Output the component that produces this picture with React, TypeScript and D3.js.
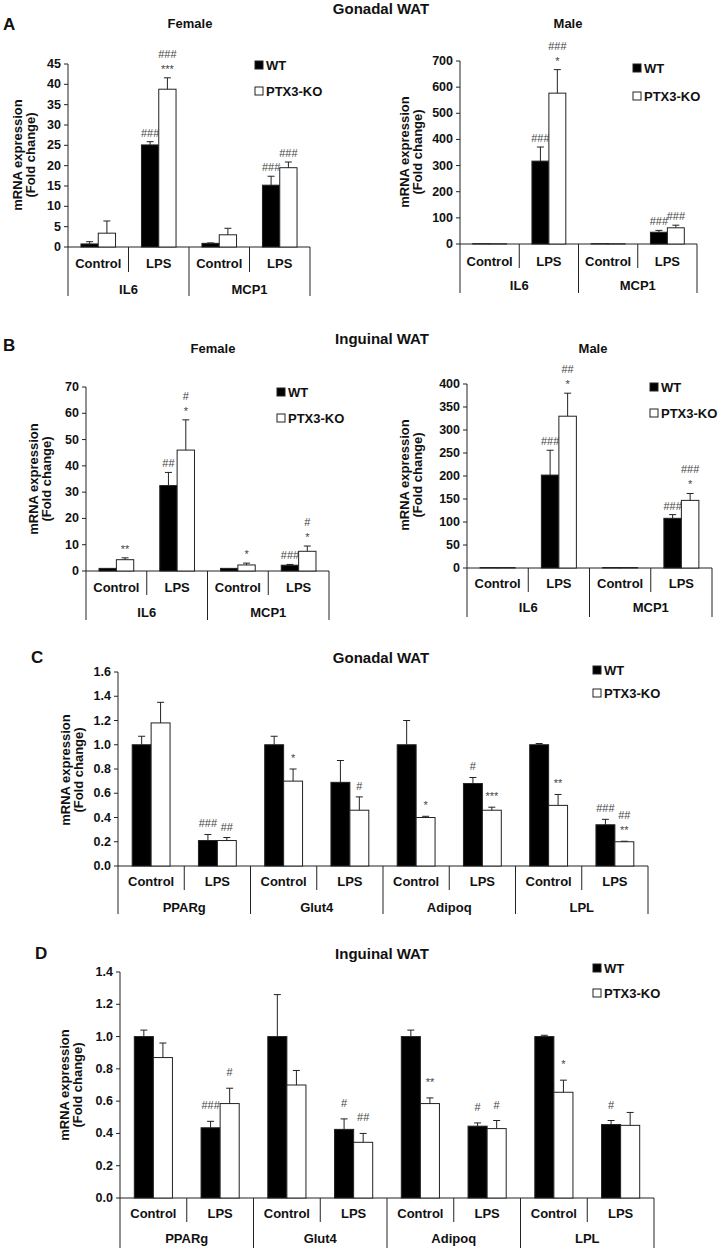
import React from "react";
import * as d3 from "d3";

const FONT = "'Liberation Sans', Arial, Helvetica, sans-serif";
const W = 719;
const H = 1248;

// ---------- shared categories ----------
const seriesNames = ["WT", "PTX3-KO"];
const treatments = ["Control", "LPS"];
const cytokines = ["IL6", "MCP1"];
const genes = ["PPARg", "Glut4", "Adipoq", "LPL"];

// ---------- tick labels ----------
const ticksAFemale = [0, 5, 10, 15, 20, 25, 30, 35, 40, 45];
const ticksAMale = [0, 100, 200, 300, 400, 500, 600, 700];
const ticksBFemale = [0, 10, 20, 30, 40, 50, 60, 70];
const ticksBMale = [0, 50, 100, 150, 200, 250, 300, 350, 400];
const ticksC = [0, 0.2, 0.4, 0.6, 0.8, 1.0, 1.2, 1.4, 1.6];
const ticksD = [0, 0.2, 0.4, 0.6, 0.8, 1.0, 1.2, 1.4];

// ---------- values (order: group1 Control, group1 LPS, group2 Control, ...) ----------
// Panel A – Gonadal WAT, Female
const aFemWT = [0.75, 25.1, 0.9, 15.2];
const aFemWTsem = [0.55, 0.8, 0.1, 2.2];
const aFemKO = [3.4, 38.8, 3.0, 19.5];
const aFemKOsem = [3.0, 2.8, 1.6, 1.4];
const aFemWTsig = ["", "###", "", "###"];
const aFemKOsig = ["", "###|***", "", "###"];

// Panel A – Gonadal WAT, Male
const aMaleWT = [1, 317, 1, 45];
const aMaleWTsem = [0, 54, 0, 7];
const aMaleKO = [1, 577, 1, 62];
const aMaleKOsem = [0, 90, 0, 10];
const aMaleWTsig = ["", "###", "", "###"];
const aMaleKOsig = ["", "###|*", "", "###"];

// Panel B – Inguinal WAT, Female
const bFemWT = [1, 32.5, 1, 2.2];
const bFemWTsem = [0, 5, 0, 0.3];
const bFemKO = [4.3, 46, 2.3, 7.5];
const bFemKOsem = [0.7, 11.5, 0.7, 2.0];
const bFemWTsig = ["", "##", "", "###"];
const bFemKOsig = ["**", "#|*", "*", "#|*"];

// Panel B – Inguinal WAT, Male
const bMaleWT = [1, 202, 1, 108];
const bMaleWTsem = [0, 54, 0, 8];
const bMaleKO = [1, 330, 1, 147];
const bMaleKOsem = [0, 50, 0, 15];
const bMaleWTsig = ["", "###", "", "###"];
const bMaleKOsig = ["", "##|*", "", "###|*"];

// Panel C – Gonadal WAT
const cWT = [1.0, 0.21, 1.0, 0.69, 1.0, 0.68, 1.0, 0.34];
const cWTsem = [0.07, 0.05, 0.07, 0.18, 0.2, 0.05, 0.01, 0.045];
const cKO = [1.18, 0.21, 0.7, 0.46, 0.4, 0.46, 0.5, 0.2];
const cKOsem = [0.17, 0.025, 0.1, 0.11, 0.01, 0.025, 0.09, 0.004];
const cWTsig = ["", "###", "", "", "", "#", "", "###"];
const cKOsig = ["", "##", "*", "#", "*", "***", "**", "##|**"];

// Panel D – Inguinal WAT
const dWT = [1.0, 0.435, 1.0, 0.425, 1.0, 0.445, 1.0, 0.455];
const dWTsem = [0.04, 0.04, 0.26, 0.065, 0.04, 0.02, 0.008, 0.025];
const dKO = [0.87, 0.585, 0.7, 0.345, 0.585, 0.43, 0.655, 0.45];
const dKOsem = [0.09, 0.095, 0.09, 0.055, 0.035, 0.05, 0.075, 0.08];
const dWTsig = ["", "###", "", "#", "", "#", "", "#"];
const dKOsig = ["", "#", "", "##", "**", "#", "*", ""];

type Layout = {
  x0: number; x1: number; y0: number; yTop: number;
  subY: number; grpY: number; shortB: number; longB: number;
  legX: number; legY: number; legDy: number;
  ylabX: number; ylabY: number; sigGap: number; fmt: (n: number) => string;
};

type PanelProps = {
  layout: Layout;
  groups: string[];
  ticks: number[];
  wt: number[]; wtSem: number[]; ko: number[]; koSem: number[];
  wtSig: string[]; koSig: string[];
};

const LINE = "#222";
const TXT = "#111";

function Panel({ layout: L, groups, ticks, wt, wtSem, ko, koSem, wtSig, koSig }: PanelProps) {
  const keys: string[] = [];
  groups.forEach((g) => treatments.forEach((t) => keys.push(g + "|" + t)));
  const x = d3.scaleBand<string>().domain(keys).range([L.x0, L.x1]).padding(0);
  const xg = d3.scaleBand<string>().domain(groups).range([L.x0, L.x1]).padding(0);
  const inner = d3.scaleBand<string>().domain(seriesNames).range([0, x.bandwidth()]).paddingInner(0).paddingOuter(0.75);
  const y = d3.scaleLinear().domain([0, ticks[ticks.length - 1]]).range([L.y0, L.yTop]);
  const bw = inner.bandwidth();
  const cap = 3.5;

  const bars: React.ReactNode[] = [];
  keys.forEach((k, i) => {
    const sets = [
      { s: seriesNames[0], v: wt[i], e: wtSem[i], sig: wtSig[i], fill: "#000" },
      { s: seriesNames[1], v: ko[i], e: koSem[i], sig: koSig[i], fill: "#fff" },
    ];
    sets.forEach((d) => {
      const bx = (x(k) as number) + (inner(d.s) as number);
      const cx = bx + bw / 2;
      const top = y(d.v);
      const eTop = y(d.v + d.e);
      bars.push(
        <rect key={k + d.s} x={bx} y={top} width={bw} height={L.y0 - top}
          fill={d.fill} stroke={LINE} strokeWidth={1} />
      );
      if (d.e > 0) {
        bars.push(
          <g key={k + d.s + "e"} stroke={LINE} strokeWidth={1}>
            <line x1={cx} x2={cx} y1={top} y2={eTop} />
            <line x1={cx - cap} x2={cx + cap} y1={eTop} y2={eTop} />
          </g>
        );
      }
      if (d.sig) {
        const lines = d.sig.split("|").reverse();
        lines.forEach((t, j) => {
          bars.push(
            <text key={k + d.s + "s" + j} x={cx} y={eTop - L.sigGap - j * 15}
              textAnchor="middle" fontSize={11} fill="#444" fontFamily={FONT}>{t}</text>
          );
        });
      }
    });
  });

  return (
    <g>
      {/* y axis & ticks */}
      <line x1={L.x0} x2={L.x0} y1={L.yTop} y2={L.longB} stroke={LINE} strokeWidth={1} />
      {ticks.map((t) => (
        <g key={"t" + t}>
          <line x1={L.x0 - 4} x2={L.x0} y1={y(t)} y2={y(t)} stroke={LINE} strokeWidth={1} />
          <text x={L.x0 - 7} y={y(t)} textAnchor="end" dominantBaseline="central"
            fontSize={12.5} fontWeight="bold" fill={TXT} fontFamily={FONT}>{L.fmt(t)}</text>
        </g>
      ))}
      {/* x axis baseline */}
      <line x1={L.x0} x2={L.x1} y1={L.y0} y2={L.y0} stroke={LINE} strokeWidth={1} />
      {/* dividers */}
      {keys.map((k, i) => {
        const xe = (x(k) as number) + x.bandwidth();
        const isGroupEnd = i % 2 === 1;
        return <line key={"d" + k} x1={xe} x2={xe} y1={L.y0} y2={isGroupEnd ? L.longB : L.shortB} stroke={LINE} strokeWidth={1} />;
      })}
      {keys.map((k) => (
        <text key={"sl" + k} x={(x(k) as number) + x.bandwidth() / 2} y={L.subY} textAnchor="middle"
          dominantBaseline="central" fontSize={13} fontWeight="bold" fill={TXT} fontFamily={FONT}>{k.split("|")[1]}</text>
      ))}
      {groups.map((g) => (
        <text key={"gl" + g} x={(xg(g) as number) + xg.bandwidth() / 2} y={L.grpY} textAnchor="middle"
          dominantBaseline="central" fontSize={13} fontWeight="bold" fill={TXT} fontFamily={FONT}>{g}</text>
      ))}
      {bars}
      {/* y label */}
      <g transform={`translate(${L.ylabX},${L.ylabY}) rotate(-90)`}>
        <text x={0} y={0} textAnchor="middle" dominantBaseline="central" fontSize={13} fontWeight="bold" fill={TXT} fontFamily={FONT}>mRNA expression</text>
        <text x={0} y={13.5} textAnchor="middle" dominantBaseline="central" fontSize={13} fontWeight="bold" fill={TXT} fontFamily={FONT}>(Fold change)</text>
      </g>
      {/* legend */}
      {seriesNames.map((s, i) => (
        <g key={"lg" + s}>
          <rect x={L.legX} y={L.legY + i * L.legDy - 4} width={8} height={8}
            fill={i === 0 ? "#000" : "#fff"} stroke={LINE} strokeWidth={1} />
          <text x={L.legX + 11} y={L.legY + i * L.legDy} dominantBaseline="central" fontSize={13}
            fontWeight="bold" fill={TXT} fontFamily={FONT}>{s}</text>
        </g>
      ))}
    </g>
  );
}

const fInt = d3.format("d");
const fDec = d3.format(".1f");

const layoutAF: Layout = { x0: 68, x1: 310, y0: 247, yTop: 64, subY: 263, grpY: 289, shortB: 272, longB: 296, legX: 255, legY: 65, legDy: 26, ylabX: 17, ylabY: 155, sigGap: 5, fmt: fInt };
const layoutAM: Layout = { x0: 460, x1: 697, y0: 244, yTop: 61, subY: 261, grpY: 285, shortB: 268, longB: 293, legX: 633, legY: 68, legDy: 28, ylabX: 404, ylabY: 152, sigGap: 5, fmt: fInt };
const layoutBF: Layout = { x0: 86, x1: 329, y0: 571, yTop: 387, subY: 587, grpY: 612, shortB: 595, longB: 620, legX: 277, legY: 392, legDy: 26, ylabX: 33, ylabY: 479, sigGap: 5, fmt: fInt };
const layoutBM: Layout = { x0: 467, x1: 712, y0: 568, yTop: 384, subY: 583, grpY: 607, shortB: 592, longB: 617, legX: 650, legY: 387, legDy: 26, ylabX: 404, ylabY: 475, sigGap: 5, fmt: fInt };
const layoutC: Layout = { x0: 118, x1: 648, y0: 866, yTop: 672, subY: 881, grpY: 907, shortB: 890, longB: 914, legX: 593, legY: 670, legDy: 23, ylabX: 65, ylabY: 770, sigGap: 7, fmt: fDec };
const layoutD: Layout = { x0: 120, x1: 654, y0: 1198, yTop: 972, subY: 1213, grpY: 1238, shortB: 1222, longB: 1248, legX: 593, legY: 968, legDy: 25, ylabX: 64, ylabY: 1085, sigGap: 12, fmt: fDec };

function Label({ x, y, size, anchor = "middle", children }: { x: number; y: number; size: number; anchor?: string; children: React.ReactNode }) {
  return (
    <text x={x} y={y} textAnchor={anchor as any} dominantBaseline="central" fontSize={size}
      fontWeight="bold" fill={TXT} fontFamily={FONT}>{children}</text>
  );
}

export default function App() {
  return (
    <svg width={W} height={H} viewBox={`0 0 ${W} ${H}`}
      style={{ position: "absolute", left: 0, top: 0, background: "#fff", display: "block" }}>
      <rect x={0} y={0} width={W} height={H} fill="#fff" />
      {/* Panel A */}
      <Label x={381} y={8} size={15}>Gonadal WAT</Label>
      <Label x={3} y={24} size={17} anchor="start">A</Label>
      <Label x={190} y={23} size={13}>Female</Label>
      <Label x={568} y={23} size={13}>Male</Label>
      <Panel layout={layoutAF} groups={cytokines} ticks={ticksAFemale}
        wt={aFemWT} wtSem={aFemWTsem} ko={aFemKO} koSem={aFemKOsem} wtSig={aFemWTsig} koSig={aFemKOsig} />
      <Panel layout={layoutAM} groups={cytokines} ticks={ticksAMale}
        wt={aMaleWT} wtSem={aMaleWTsem} ko={aMaleKO} koSem={aMaleKOsem} wtSig={aMaleWTsig} koSig={aMaleKOsig} />
      {/* Panel B */}
      <Label x={382} y={338} size={15}>Inguinal WAT</Label>
      <Label x={3} y={345} size={17} anchor="start">B</Label>
      <Label x={213} y={348} size={13}>Female</Label>
      <Label x={593} y={348} size={13}>Male</Label>
      <Panel layout={layoutBF} groups={cytokines} ticks={ticksBFemale}
        wt={bFemWT} wtSem={bFemWTsem} ko={bFemKO} koSem={bFemKOsem} wtSig={bFemWTsig} koSig={bFemKOsig} />
      <Panel layout={layoutBM} groups={cytokines} ticks={ticksBMale}
        wt={bMaleWT} wtSem={bMaleWTsem} ko={bMaleKO} koSem={bMaleKOsem} wtSig={bMaleWTsig} koSig={bMaleKOsig} />
      {/* Panel C */}
      <Label x={381} y={657} size={15}>Gonadal WAT</Label>
      <Label x={31} y={657} size={17} anchor="start">C</Label>
      <Panel layout={layoutC} groups={genes} ticks={ticksC}
        wt={cWT} wtSem={cWTsem} ko={cKO} koSem={cKOsem} wtSig={cWTsig} koSig={cKOsig} />
      {/* Panel D */}
      <Label x={382} y={953} size={15}>Inguinal WAT</Label>
      <Label x={35} y={953} size={17} anchor="start">D</Label>
      <Panel layout={layoutD} groups={genes} ticks={ticksD}
        wt={dWT} wtSem={dWTsem} ko={dKO} koSem={dKOsem} wtSig={dWTsig} koSig={dKOsig} />
    </svg>
  );
}
